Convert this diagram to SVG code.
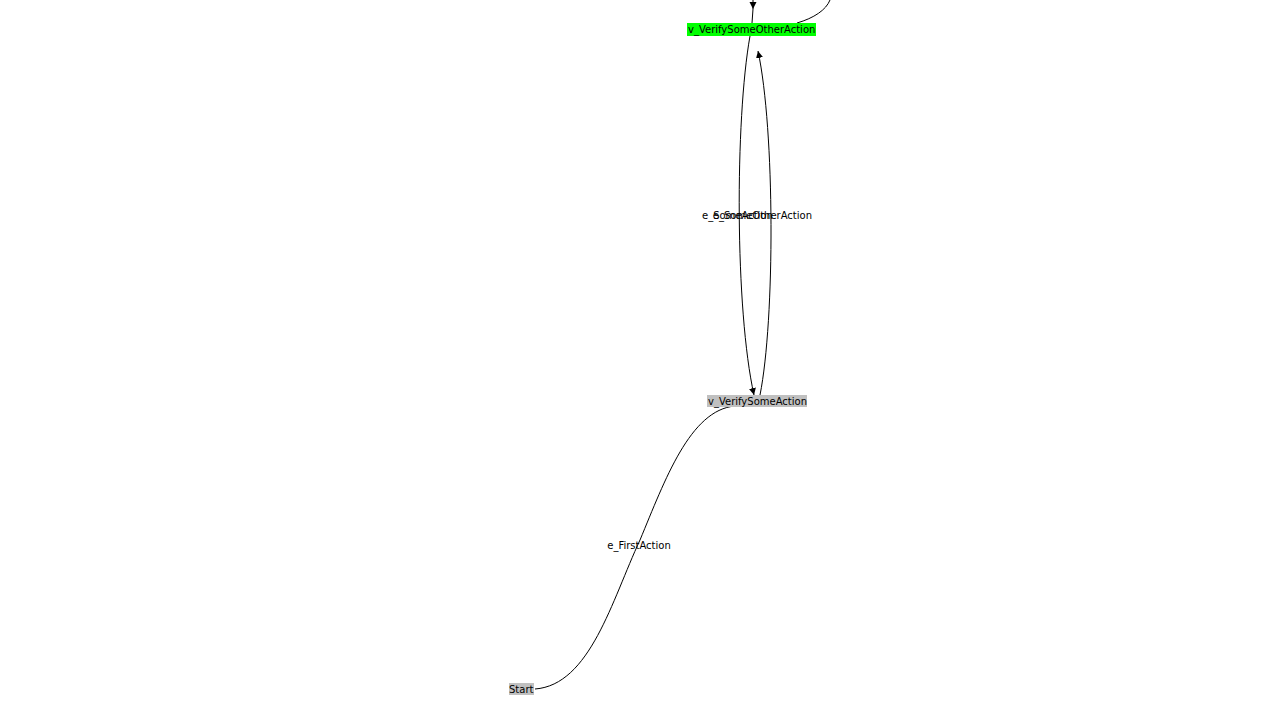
<svg xmlns="http://www.w3.org/2000/svg" width="1280" height="720" viewBox="0 0 1280 720">
<style>
text{font-family:"DejaVu Sans",sans-serif;font-size:10px;fill:#000}
.e{fill:none;stroke:#000;stroke-width:1}
.lbl{text-anchor:middle}
</style>
<defs>
<marker id="ah" viewBox="0 0 10 10" refX="10" refY="5" markerWidth="7" markerHeight="8" markerUnits="userSpaceOnUse" orient="auto">
<path d="M0,0 L10,5 L0,10 z" fill="#000"/>
</marker>
</defs>
<rect width="1280" height="720" fill="#fff"/>
<g id="connectors">
<path class="e" d="M753,-2 L753,9" marker-end="url(#ah)"/>
<path class="e" d="M753,9 L752,23"/>
<path class="e" d="M797,23 C814,18 826,10 830,0"/>
<path class="e" d="M750,36 C735,120 735,310 754,395" marker-end="url(#ah)"/>
<path class="e" d="M760,395 C775,320 775,130 758,51" marker-end="url(#ah)"/>
<path class="e" d="M535,689 C590,685 612,600 640,540 C665,480 690,410 735,406"/>
<text x="702" y="219">e_SomeAction</text>
<text x="812" y="219" text-anchor="end">e_SomeOtherAction</text>
<text class="lbl" x="639" y="549">e_FirstAction</text>
</g>
<g id="v_VerifySomeOtherAction">
<rect x="687" y="23" width="129" height="13" fill="#00ff00"/>
<text x="688" y="33">v_VerifySomeOtherAction</text>
</g>
<g id="v_VerifySomeAction">
<rect x="707" y="395" width="100" height="12" fill="#c0c0c0"/>
<text x="708" y="405">v_VerifySomeAction</text>
</g>
<g id="Start">
<rect x="509" y="683" width="25" height="12" fill="#c0c0c0"/>
<text x="509" y="693">Start</text>
</g>
</svg>
